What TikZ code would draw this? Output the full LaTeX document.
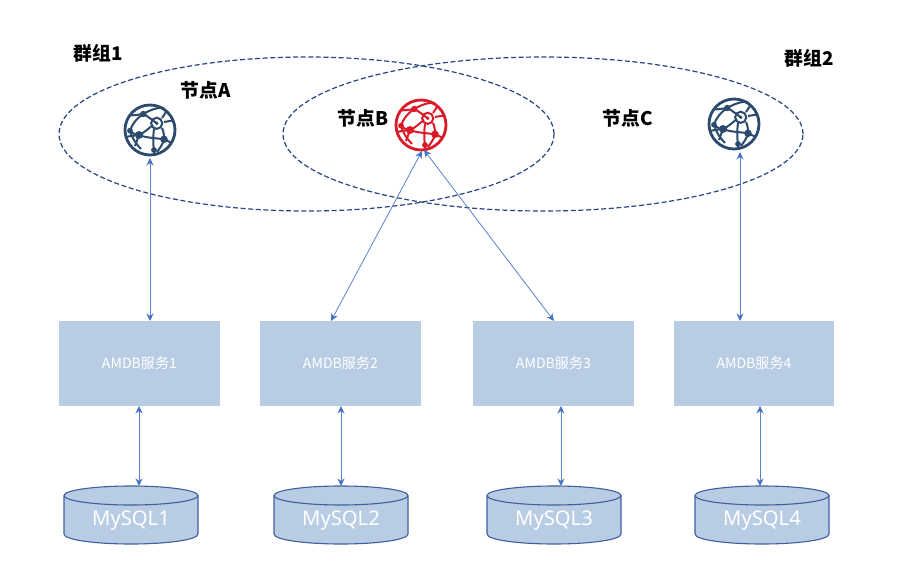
\documentclass[tikz,border=0pt]{standalone}
\usepackage{fontspec}
\setmainfont{Noto Sans}
\newfontfamily\cjk{Noto Sans CJK SC}
\usetikzlibrary{arrows.meta,shapes.geometric}
\definecolor{navy}{HTML}{2B4A6C}
\definecolor{alarm}{HTML}{DB1A28}
\definecolor{boxfill}{HTML}{B8CCE4}
\definecolor{linkblue}{HTML}{5B82CC}
\definecolor{tipblue}{HTML}{4472C4}
\definecolor{dbline}{HTML}{3F5F9E}
\definecolor{groupline}{HTML}{2A4480}
\tikzset{
  x=1pt,y=-1pt,
  groupring/.style={draw=groupline,dash pattern=on 5pt off 2.6pt,line width=1.2pt,ellipse,minimum width=#1,minimum height=154pt,inner sep=0pt},
  heading/.style={font=\cjk\bfseries\fontsize{18.8}{20}\selectfont,text=black,inner sep=0pt},
  service/.style={fill=boxfill,draw=none,minimum width=160.5pt,minimum height=85pt,inner sep=0pt,text=white,font=\cjk\fontsize{14.1}{16}\selectfont},
  dblabel/.style={inner sep=0pt,text=white,font=\fontsize{20.2}{24}\selectfont},
  dbshell/.style={draw=dbline,fill=boxfill,line width=1.1pt},
  link/.style={draw=linkblue,line width=0.8pt,{Stealth[length=7.5pt,width=7pt,color=tipblue]}-{Stealth[length=7.5pt,width=7pt,color=tipblue]}},
  globeport/.style={circle,minimum size=56pt,inner sep=0pt,draw=none},
  pics/globe/.style={code={
    \begin{scope}[draw=#1,fill=#1,line width=2pt]
      \draw[line width=2.8pt] (0,0) circle (25);
      \draw (-20,-14.5) .. controls (-13,-15) and (-10,-15.5) .. (-6.7,-16) .. controls (0,-20) and (8,-23) .. (14,-22);
      \draw (-6.7,-16) .. controls (-1,-13) and (2,-10) .. (6.7,-6.7);
      \draw (-6.7,-16) .. controls (-13,-12) and (-18,-6) .. (-20,0.7);
      \draw (-20,0.7) .. controls (-18,3) and (-14,5) .. (-11,5);
      \draw (-11,5) .. controls (-6,3) and (-1,-2) .. (3,-5);
      \draw (-11,5) .. controls (-4,8) and (6,8) .. (14,9.3);
      \draw (-24,7) .. controls (-20,6) and (-15,5.5) .. (-11,5);
      \draw (-20,0.7) .. controls (-18,8) and (-14,14) .. (-9,19);
      \draw (-11,5) -- (-15,16);
      \draw (4,-1) .. controls (3,6) and (3,14) .. (4,20) -- (4,25);
      \draw (12,-2) .. controls (14,2) and (14,6) .. (14,9.3) .. controls (13,14) and (10,18) .. (7,22);
      \draw (14,9.3) -- (22,13);
      \draw (14,-8) -- (23,-9.5);
      \draw (12,-12) .. controls (14,-15) and (16,-18) .. (17,-19);
      \draw[fill=none] (6.7,-6.7) circle (5.6);
      \fill (6.7,-6.7) circle (1.9);
      \fill (-6.7,-16) circle (3.2);
      \fill (-20,0.7) circle (2.9);
      \fill (-11,5) circle (4);
      \fill (14,9.3) circle (3.8);
      \fill (4,20) circle (2.9);
    \end{scope}
  }}
}
\begin{document}
\begin{tikzpicture}
\useasboundingbox (0,0) rectangle (924,567);
\fill[white] (0,0) rectangle (924,567);
% groups
\node[groupring=495pt] (g1) at (306.5,134) {};
\node[groupring=520pt] (g2) at (543,134) {};
% globes
\node[globeport] (na) at (150,130) {};
\node[globeport] (nb) at (421,125) {};
\node[globeport] (nc) at (734,124) {};
\pic at (na) {globe=navy};
\pic at (nb) {globe=alarm};
\pic at (nc) {globe=navy};
% labels
\node[heading] (t1) at (98,53) {群组1};
\node[heading] (t2) at (809,58) {群组2};
\node[heading] (ta) at (206,90) {节点A};
\node[heading] (tb) at (363,118) {节点B};
\node[heading] (tc) at (628,118) {节点C};
% services
\node[service] (s1) at (139.5,363.5) {AMDB服务1};
\node[service] (s2) at (340.5,363.5) {AMDB服务2};
\node[service] (s3) at (553.5,363.5) {AMDB服务3};
\node[service] (s4) at (754,363.5) {AMDB服务4};
% databases
\foreach \nm/\cx/\lab in {d1/131/MySQL1,d2/341/MySQL2,d3/554/MySQL3,d4/762/MySQL4}{
  \draw[dbshell]
    (\cx-67,495.5) -- (\cx-67,534) .. controls (\cx-67,540) and (\cx-35,544) .. (\cx,544)
    .. controls (\cx+35,544) and (\cx+67,540) .. (\cx+67,534) -- (\cx+67,495.5);
  \draw[dbshell] (\cx,495.5) ellipse (67 and 9.5);
  \node[dblabel] (\nm) at (\cx,520.5) {\lab};
}
% connectors
\coordinate (s1b) at (139,406); \coordinate (d1t) at (139,486);
\coordinate (s2b) at (341,406); \coordinate (d2t) at (341,486);
\coordinate (s3b) at (561,406); \coordinate (d3t) at (561,486);
\coordinate (s4b) at (760,406); \coordinate (d4t) at (760,486);
\coordinate (s1t) at (150,321); \coordinate (s2t) at (331,321);
\coordinate (s3t) at (554,321); \coordinate (s4t) at (740,321);
\coordinate (pa) at (150,158); \coordinate (pc) at (740,152);
\coordinate (pb1) at (422,151); \coordinate (pb2) at (424,150);
\draw[link] (pa) -- (s1t);
\draw[link] (pb1) -- (s2t);
\draw[link] (pb2) -- (s3t);
\draw[link] (pc) -- (s4t);
\draw[link] (s1b) -- (d1t);
\draw[link] (s2b) -- (d2t);
\draw[link] (s3b) -- (d3t);
\draw[link] (s4b) -- (d4t);
\end{tikzpicture}
\end{document}
